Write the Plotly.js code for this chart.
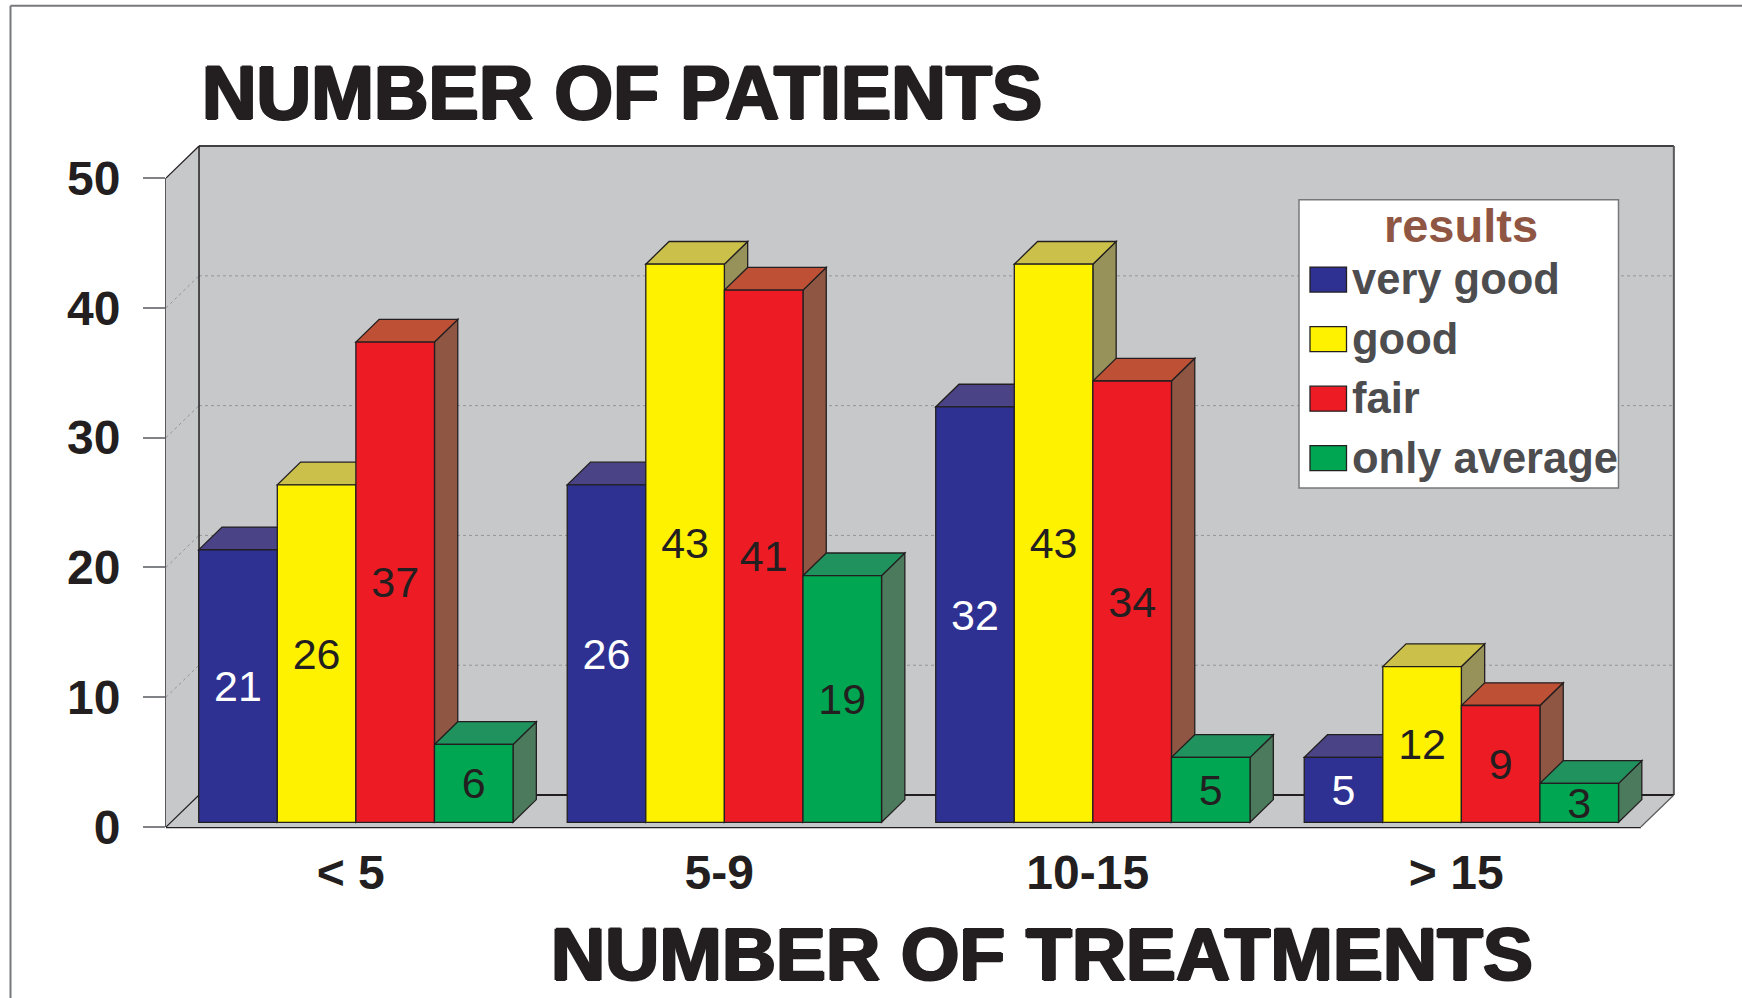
<!DOCTYPE html>
<html><head><meta charset="utf-8">
<script src="https://cdn.plot.ly/plotly-3.0.1.min.js"></script>
<style>html,body{margin:0;padding:0;background:#fff;overflow:hidden}</style></head>
<body><div id="chart" style="width:1742px;height:998px"></div>
<script>
// ---- data ----
const categories = ['< 5', '5-9', '10-15', '> 15'];
const seriesNames = ['very good', 'good', 'fair', 'only average'];
const veryGood = [21, 26, 32, 5];
const good = [26, 43, 43, 12];
const fair = [37, 41, 34, 9];
const onlyAverage = [6, 19, 5, 3];
const yTicks = [0, 10, 20, 30, 40, 50];

// ---- styles ----
const frontColors = ['#2e3192', '#fff200', '#ed1c24', '#00a651'];
const topColors = ['#4a4487', '#cbc14a', '#bd5035', '#1f925e'];
const sideColors = ['#3d3a78', '#96925a', '#8f5643', '#4b7a5c'];
const labelColors = ['#ffffff', '#231f20', '#231f20', '#231f20'];
const ink = '#231f20';
const FONT = '"Liberation Sans", Arial, sans-serif';

// ---- scales: one category = 368.5px, one patient = 12.98px ----
const W = 1742, H = 998;
const M = {l: 166, r: 60, t: 140, b: 171};
const XMIN = -0.5153, XMAX = 3.5987, YMAX = 52.93;
const BARGAP = 0.147;
const BW = (1 - BARGAP) / 4;
const BASE = 0.362;            // bars stand slightly behind the floor's front edge
const BAR_DX = 0.0632, BAR_DY = 1.749;   // bar depth
const WALL_DX = 0.0896, WALL_DY = 2.465; // chart box depth
const WALL_RIGHT = 3.5766;
const TICK_SHIFT = -0.014;

const values = [veryGood, good, fair, onlyAverage];
const shapes = [];
function poly(pts, fill, lineColor, lineWidth, xref, yref) {
  shapes.push({type: 'path', layer: 'below', xref: xref || 'x', yref: yref || 'y',
    path: 'M' + pts.map(p => p[0] + ',' + p[1]).join('L') + 'Z',
    fillcolor: fill, line: {color: lineColor, width: lineWidth}});
}
function seg(x0, y0, x1, y1, color, width, dash, xref, yref, layer) {
  shapes.push({type: 'line', layer: layer || 'below', xref: xref || 'x', yref: yref || 'y',
    x0, y0, x1, y1, line: {color, width, dash: dash || 'solid'}});
}

// chart box: back wall, floor, left wall
const wall = '#c7c8ca';
const backL = XMIN + WALL_DX, top50 = 50 + WALL_DY;
poly([[backL, WALL_DY], [WALL_RIGHT, WALL_DY], [WALL_RIGHT, top50], [backL, top50]], wall, 'rgba(0,0,0,0)', 0);
poly([[XMIN, 0], [WALL_RIGHT - WALL_DX, 0], [WALL_RIGHT, WALL_DY], [backL, WALL_DY]], wall, 'rgba(0,0,0,0)', 0);
poly([[XMIN, 0], [backL, WALL_DY], [backL, top50], [XMIN, 50]], wall, 'rgba(0,0,0,0)', 0);
// gridlines on the walls
yTicks.filter(t => t > 0 && t < 50).forEach(t => {
  seg(backL, t + WALL_DY, WALL_RIGHT, t + WALL_DY, '#939598', 1, 'dot');
  seg(XMIN, t, backL, t + WALL_DY, '#939598', 1, 'dot');
});
// box edges
seg(backL, top50, WALL_RIGHT, top50, '#414042', 2);
seg(WALL_RIGHT, top50, WALL_RIGHT, WALL_DY, '#58595b', 2);
seg(backL, WALL_DY, WALL_RIGHT, WALL_DY, ink, 2);
seg(backL, WALL_DY, backL, top50, ink, 1.5);
seg(XMIN, 50, backL, top50, ink, 1.2);
seg(XMIN, 0, backL, WALL_DY, ink, 1.2);
seg(WALL_RIGHT - WALL_DX, 0, WALL_RIGHT, WALL_DY, '#58595b', 1.2);
seg(0, 0, 0, 50, ink, 1.5, 'solid', 'paper', 'y');
seg(XMIN, 0, WALL_RIGHT - WALL_DX, 0, ink, 2.5, 'solid', 'x', 'paper');

// side and top faces of every bar, painted left to right; the fronts are the bar traces
categories.forEach((c, k) => {
  values.forEach((vals, i) => {
    const x0 = k + (i - 2) * BW, x1 = x0 + BW;
    const y0 = BASE, y1 = BASE + vals[k];
    poly([[x1, y0], [x1 + BAR_DX, y0 + BAR_DY], [x1 + BAR_DX, y1 + BAR_DY], [x1, y1]], sideColors[i], ink, 1.3);
    poly([[x0, y1], [x1, y1], [x1 + BAR_DX, y1 + BAR_DY], [x0 + BAR_DX, y1 + BAR_DY]], topColors[i], ink, 1.3);
  });
});

// page frame and legend box
const pxX = p => (p - M.l) / (W - M.l - M.r);
const pxY = p => 1 - (p - M.t) / (H - M.t - M.b);
seg(pxX(10.5), pxY(5.7), pxX(10.5), pxY(H), '#77787b', 2, 'solid', 'paper', 'paper', 'above');
seg(pxX(10.5), pxY(5.7), pxX(W), pxY(5.7), '#77787b', 2, 'solid', 'paper', 'paper', 'above');
shapes.push({type: 'rect', layer: 'above', xref: 'paper', yref: 'paper',
  x0: pxX(1299), x1: pxX(1618.5), y0: pxY(488), y1: pxY(199.7),
  fillcolor: '#fff', line: {color: '#77787b', width: 1.5}});

const heavy = '1.4px 0 0 ' + ink + ', -1.4px 0 0 ' + ink + ', 0 1px 0 ' + ink + ', 0 -1px 0 ' + ink;

const traces = seriesNames.map((name, i) => ({
  type: 'bar', name,
  x: categories.map((c, k) => k),
  y: values[i],
  base: categories.map(() => BASE),
  text: values[i].map(String),
  textposition: 'inside',
  insidetextanchor: 'middle',
  textangle: 0,
  constraintext: 'none',
  textfont: {family: FONT, size: 43, color: labelColors[i]},
  marker: {color: frontColors[i], line: {color: ink, width: 1.3}},
  hoverinfo: 'skip'
}));

const layout = {
  width: W, height: H,
  margin: M,
  paper_bgcolor: '#fff', plot_bgcolor: '#fff',
  barmode: 'group', bargap: BARGAP, bargroupgap: 0,
  showlegend: true,
  title: {text: 'NUMBER OF PATIENTS', xref: 'paper', x: pxX(202), xanchor: 'left',
    yref: 'container', y: 1 - 93 / H, yanchor: 'middle',
    font: {family: FONT, size: 75.5, weight: 700, color: ink, shadow: heavy}},
  xaxis: {range: [XMIN, XMAX], tickmode: 'array',
    tickvals: categories.map((c, k) => k + TICK_SHIFT), ticktext: categories,
    ticks: '', showgrid: false, zeroline: false, showline: false, ticklabelstandoff: 13,
    tickfont: {family: FONT, size: 48, weight: 700, color: ink}, fixedrange: true},
  yaxis: {range: [0, YMAX], tickmode: 'array', tickvals: yTicks, ticktext: yTicks.map(String),
    ticks: 'outside', ticklen: 22, tickwidth: 2, tickcolor: '#808285',
    showgrid: false, zeroline: false, showline: false, ticklabelstandoff: 13,
    tickfont: {family: FONT, size: 48, weight: 700, color: ink}, fixedrange: true},
  legend: {x: pxX(1299), xanchor: 'left', y: pxY(181.2), yanchor: 'top',
    bgcolor: 'rgba(0,0,0,0)', borderwidth: 0,
    itemwidth: 43, itemclick: false, itemdoubleclick: false,
    traceorder: 'normal', tracegroupgap: 0,
    title: {text: 'results', side: 'top center', font: {family: FONT, size: 47, weight: 700, color: '#8f5643'}},
    font: {family: FONT, size: 43.5, weight: 700, color: '#4d4d4f'}},
  shapes,
  annotations: [{text: 'NUMBER OF TREATMENTS', xref: 'paper', yref: 'paper',
    x: pxX(1041.5), y: pxY(954), xanchor: 'center', yanchor: 'middle', showarrow: false,
    font: {family: FONT, size: 75, weight: 700, color: ink, shadow: heavy}}]
};

const gd = document.getElementById('chart');
function sizeSwatches() {
  gd.querySelectorAll('.legend .legendpoints path').forEach(p => {
    p.setAttribute('d', 'M21,15H-15.5V-10H21Z');
  });
}
Plotly.newPlot(gd, traces, layout, {displayModeBar: false, responsive: false}).then(() => {
  sizeSwatches();
  gd.on('plotly_afterplot', sizeSwatches);
});
</script></body></html>
